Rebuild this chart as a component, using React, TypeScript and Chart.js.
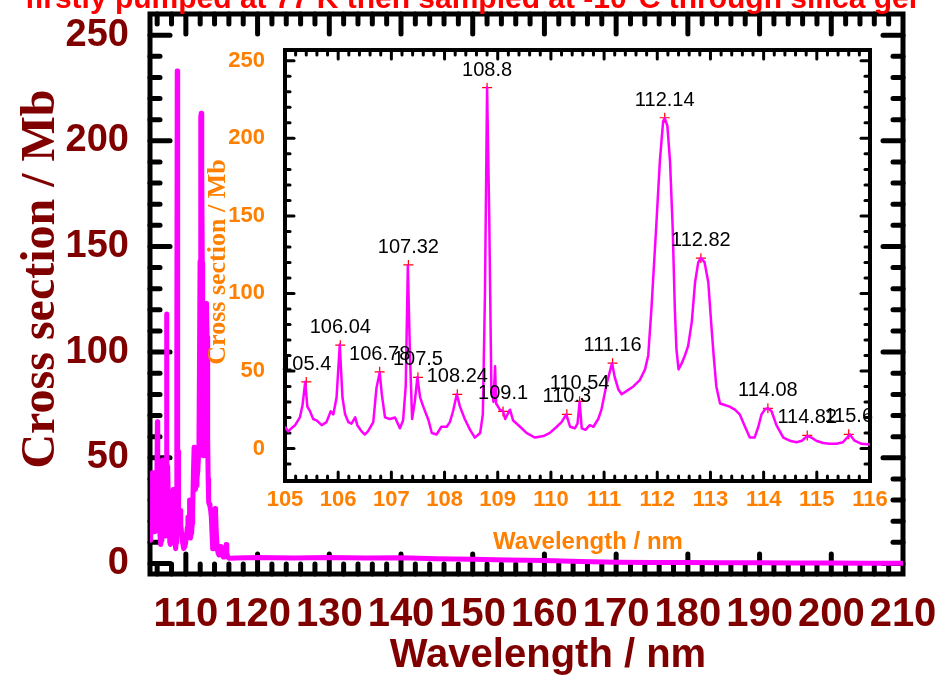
import React, { useEffect, useRef } from "react";
import { Chart, registerables } from "chart.js";

Chart.register(...registerables);

// ---------- text ----------
const TITLE = "firstly pumped at 77 K then sampled at -10°C through silica gel";
const X_TITLE = "Wavelength / nm";
const Y_TITLE = "Cross section / Mb";

// ---------- data (105-116 nm region, shared by main plot and inset) ----------
const spectrumWavelength = [
  105.0, 105.06, 105.12, 105.19, 105.28, 105.33, 105.38, 105.42, 105.47, 105.53,
  105.6, 105.69, 105.78, 105.86, 105.91, 105.97, 106.03, 106.08, 106.13, 106.19,
  106.25, 106.32, 106.36, 106.44, 106.5, 106.56, 106.66, 106.72, 106.78, 106.82,
  106.88, 106.97, 107.07, 107.16, 107.22, 107.27, 107.31, 107.35, 107.39, 107.44,
  107.49, 107.54, 107.6, 107.7, 107.76, 107.85, 107.94, 108.04, 108.1, 108.16,
  108.23, 108.29, 108.38, 108.48, 108.57, 108.67, 108.72, 108.76, 108.8, 108.84,
  108.88, 108.92, 108.95, 108.97, 109.04, 109.1, 109.14, 109.23, 109.29, 109.42,
  109.54, 109.7, 109.86, 109.98, 110.11, 110.2, 110.29, 110.36, 110.45, 110.5,
  110.54, 110.58, 110.65, 110.73, 110.8, 110.89, 110.95, 111.05, 111.15, 111.2,
  111.27, 111.33, 111.42, 111.55, 111.67, 111.77, 111.83, 111.89, 111.98, 112.05,
  112.11, 112.14, 112.19, 112.24, 112.29, 112.33, 112.36, 112.4, 112.46, 112.52,
  112.58, 112.65, 112.71, 112.77, 112.82, 112.89, 112.96, 113.02, 113.06, 113.11,
  113.18, 113.27, 113.36, 113.46, 113.55, 113.65, 113.74, 113.83, 113.9, 113.96,
  114.02, 114.08, 114.15, 114.24, 114.37, 114.49, 114.62, 114.72, 114.82, 114.9,
  114.99, 115.12, 115.24, 115.37, 115.49, 115.57, 115.62, 115.71, 115.84, 116.0,
];
const spectrumValue = [
  14, 11, 13, 15, 20, 28, 43, 27, 24, 19,
  18, 15, 17, 24, 22, 33, 67, 33, 22, 17,
  16, 20, 15, 11, 9, 11, 17, 39, 49, 35,
  20, 19, 20, 13, 18, 40, 118, 60, 19, 30,
  46, 33, 27, 18, 10, 9, 14, 14, 17, 24,
  35, 27, 19, 12, 7, 10, 22, 100, 233, 150,
  40, 30, 53, 29, 25, 24, 19, 25, 18, 14,
  10, 7, 8, 10, 14, 17, 22, 14, 13, 16,
  30, 13, 12, 15, 14, 19, 25, 42, 55, 46,
  38, 35, 37, 40, 44, 51, 60, 90, 143, 186,
  211, 213, 208, 185, 142, 90, 64, 51, 55, 60,
  66, 82, 107, 120, 123, 120, 107, 78, 60, 40,
  29, 28, 27, 25, 22, 14, 7, 7, 14, 22,
  25, 26, 24, 15, 7, 5, 4, 5, 8, 7,
  5, 3.5, 3, 3, 4, 7, 9, 5, 3, 2.5,
];

// long-wavelength tail (main plot only)
const tailWavelength = [117, 120, 125, 130, 135, 140, 145, 150, 155, 160, 165, 170, 175, 180, 185, 190, 195, 200, 205, 210];
const tailValue = [2.6, 2.8, 2.6, 2.8, 2.6, 2.7, 2.2, 2.0, 1.6, 1.4, 0.9, 0.6, 0.5, 0.4, 0.3, 0.3, 0.2, 0.2, 0.1, 0.1];

// labelled peaks (inset)
const peakWavelength = [105.4, 106.04, 106.78, 107.32, 107.5, 108.24, 108.8, 109.1, 110.3, 110.54, 111.16, 112.14, 112.82, 114.08, 114.82, 115.6];
const peakValue = [42.9, 66.6, 49.4, 118.4, 45.9, 34.9, 232.7, 23.9, 22, 30.4, 55, 213.3, 122.7, 25.9, 8.4, 9.1];
const peakLabel = ["105.4", "106.04", "106.78", "107.32", "107.5", "108.24", "108.8", "109.1", "110.3", "110.54", "111.16", "112.14", "112.82", "114.08", "114.82", "115.6"];

// tick labels
const mainXTicks = [110, 120, 130, 140, 150, 160, 170, 180, 190, 200, 210];
const mainYTicks = [0, 50, 100, 150, 200, 250];
const insetXTicks = [105, 106, 107, 108, 109, 110, 111, 112, 113, 114, 115, 116];
const insetYTicks = [0, 50, 100, 150, 200, 250];

// ---------- style ----------
const DARK_RED = "#800000";
const ORANGE = "#FF8000";
const MAGENTA = "#FF00FF";
const SANS = "'Liberation Sans', Arial, sans-serif";
const SERIF = "'Liberation Serif', 'Times New Roman', serif";

type FrameOpts = {
  id: string;
  xStep: number;
  yStep: number;
  xMajors: number[];
  yMajors: number[];
  frameWidth: number;
  tickWidth: number;
  minorLen: number;
  majorLen: number;
  fill?: boolean;
};

function framePlugin(o: FrameOpts) {
  return {
    id: o.id,
    beforeDraw(chart: any) {
      if (!o.fill) return;
      const { ctx, chartArea: a } = chart;
      ctx.save();
      ctx.fillStyle = "#fff";
      ctx.fillRect(a.left, a.top, a.right - a.left, a.bottom - a.top);
      ctx.restore();
    },
    beforeDatasetsDraw(chart: any) {
      const { ctx, chartArea: a, scales } = chart;
      const xs = scales.x;
      const ys = scales.y;
      ctx.save();
      ctx.strokeStyle = "#000";
      ctx.lineCap = "round";
      ctx.lineWidth = o.tickWidth;
      const seg = (x1: number, y1: number, x2: number, y2: number) => {
        ctx.beginPath();
        ctx.moveTo(x1, y1);
        ctx.lineTo(x2, y2);
        ctx.stroke();
      };
      const isMajor = (v: number, majors: number[], step: number) =>
        majors.some((m) => Math.abs(m - v) < step / 10);
      for (let k = Math.ceil(xs.min / o.xStep - 1e-9); k * o.xStep <= xs.max + 1e-9; k++) {
        const v = k * o.xStep;
        const p = xs.getPixelForValue(v);
        if (p < a.left + 3 || p > a.right - 3) continue;
        const len = isMajor(v, o.xMajors, o.xStep) ? o.majorLen : o.minorLen;
        seg(p, a.bottom, p, a.bottom - len);
        seg(p, a.top, p, a.top + len);
      }
      for (let k = Math.ceil(ys.min / o.yStep - 1e-9); k * o.yStep <= ys.max + 1e-9; k++) {
        const v = k * o.yStep;
        const p = ys.getPixelForValue(v);
        if (p < a.top + 3 || p > a.bottom - 3) continue;
        const len = isMajor(v, o.yMajors, o.yStep) ? o.majorLen : o.minorLen;
        seg(a.left, p, a.left + len, p);
        seg(a.right, p, a.right - len, p);
      }
      ctx.lineCap = "butt";
      ctx.lineJoin = "miter";
      ctx.lineWidth = o.frameWidth;
      ctx.strokeRect(a.left, a.top, a.right - a.left, a.bottom - a.top);
      ctx.restore();
    },
  };
}

const mainTextPlugin = {
  id: "mainText",
  afterDraw(chart: any) {
    const { ctx } = chart;
    ctx.save();
    ctx.fillStyle = "#FF0000";
    ctx.font = `bold 30px ${SANS}`;
    ctx.textAlign = "center";
    ctx.textBaseline = "alphabetic";
    ctx.fillText(TITLE, 471, 8);
    ctx.fillStyle = DARK_RED;
    ctx.font = `bold 40px ${SANS}`;
    ctx.fillText(X_TITLE, 548, 667);
    ctx.translate(54, 279);
    ctx.rotate(-Math.PI / 2);
    ctx.font = `bold 48px ${SERIF}`;
    ctx.fillText(Y_TITLE, 0, 0);
    ctx.restore();
  },
};

const insetTextPlugin = {
  id: "insetText",
  afterDatasetsDraw(chart: any) {
    const { ctx, scales } = chart;
    ctx.save();
    ctx.fillStyle = "#000";
    ctx.font = `20px ${SANS}`;
    ctx.textAlign = "center";
    ctx.textBaseline = "alphabetic";
    peakLabel.forEach((t, i) => {
      const px = scales.x.getPixelForValue(peakWavelength[i]);
      const py = scales.y.getPixelForValue(peakValue[i]);
      ctx.fillText(t, px, py - 12);
    });
    ctx.restore();
  },
  afterDraw(chart: any) {
    const { ctx } = chart;
    ctx.save();
    ctx.fillStyle = ORANGE;
    ctx.textAlign = "center";
    ctx.textBaseline = "alphabetic";
    ctx.font = `bold 24px ${SANS}`;
    ctx.fillText(X_TITLE, 398, 509);
    ctx.translate(35, 222);
    ctx.rotate(-Math.PI / 2);
    ctx.font = `bold 26px ${SERIF}`;
    ctx.fillText(Y_TITLE, 0, 0);
    ctx.restore();
  },
};

function points(xs: number[], ys: number[]) {
  return xs.map((x, i) => ({ x, y: ys[i] }));
}

function fixX(h: number) {
  return (s: any) => {
    s.height = h;
    s.paddingLeft = 0;
    s.paddingRight = 0;
    s.paddingTop = 0;
    s.paddingBottom = 0;
  };
}
function fixY(w: number) {
  return (s: any) => {
    s.width = w;
    s.paddingLeft = 0;
    s.paddingRight = 0;
    s.paddingTop = 0;
    s.paddingBottom = 0;
  };
}

export default function App() {
  const mainRef = useRef<HTMLCanvasElement>(null);
  const insetRef = useRef<HTMLCanvasElement>(null);

  useEffect(() => {
    const mainData = points(spectrumWavelength, spectrumValue).concat(points(tailWavelength, tailValue));
    const main = new Chart(mainRef.current as HTMLCanvasElement, {
      type: "line",
      data: {
        datasets: [
          {
            data: mainData,
            borderColor: MAGENTA,
            borderWidth: 5,
            pointRadius: 0,
            tension: 0,
            borderJoinStyle: "round",
          } as any,
        ],
      },
      options: {
        responsive: false,
        animation: false,
        devicePixelRatio: 1,
        layout: { autoPadding: false, padding: { left: 0, right: 39, top: 14, bottom: 0 } },
        plugins: { legend: { display: false }, tooltip: { enabled: false }, title: { display: false } },
        scales: {
          x: {
            type: "linear",
            min: 105,
            max: 210,
            grid: { display: false },
            border: { display: false },
            afterBuildTicks: (s: any) => {
              s.ticks = mainXTicks.map((v) => ({ value: v }));
            },
            afterFit: fixX(101),
            ticks: {
              autoSkip: false,
              maxRotation: 0,
              minRotation: 0,
              padding: 9,
              color: DARK_RED,
              font: { family: SANS, size: 40, weight: "bold" },
              callback: (v: any) => String(v),
            },
          },
          y: {
            type: "linear",
            min: -5,
            max: 260,
            grid: { display: false },
            border: { display: false },
            afterBuildTicks: (s: any) => {
              s.ticks = mainYTicks.map((v) => ({ value: v }));
            },
            afterFit: fixY(150),
            ticks: {
              autoSkip: false,
              padding: 13,
              color: DARK_RED,
              font: { family: SANS, size: 38, weight: "bold" },
              callback: (v: any) => String(v),
            },
          },
        },
      } as any,
      plugins: [
        framePlugin({
          id: "mainFrame",
          xStep: 2,
          yStep: 10,
          xMajors: mainXTicks,
          yMajors: mainYTicks,
          frameWidth: 5,
          tickWidth: 5,
          minorLen: 10,
          majorLen: 20,
        }),
        mainTextPlugin,
      ],
    });

    const inset = new Chart(insetRef.current as HTMLCanvasElement, {
      type: "line",
      data: {
        datasets: [
          {
            data: points(spectrumWavelength, spectrumValue),
            borderColor: MAGENTA,
            borderWidth: 2.5,
            pointRadius: 0,
            tension: 0,
            borderJoinStyle: "round",
          } as any,
          {
            data: points(peakWavelength, peakValue),
            showLine: false,
            pointStyle: "cross",
            pointRadius: 5,
            pointBorderColor: "#FF0000",
            pointBorderWidth: 1.2,
            pointBackgroundColor: "#FF0000",
          } as any,
        ],
      },
      options: {
        responsive: false,
        animation: false,
        devicePixelRatio: 1,
        layout: { autoPadding: false, padding: { left: 0, right: 40, top: 10, bottom: 0 } },
        plugins: { legend: { display: false }, tooltip: { enabled: false }, title: { display: false } },
        scales: {
          x: {
            type: "linear",
            min: 105,
            max: 116,
            grid: { display: false },
            border: { display: false },
            afterBuildTicks: (s: any) => {
              s.ticks = insetXTicks.map((v) => ({ value: v }));
            },
            afterFit: fixX(79),
            ticks: {
              autoSkip: false,
              maxRotation: 0,
              minRotation: 0,
              padding: -2,
              color: ORANGE,
              font: { family: SANS, size: 22, weight: "bold" },
              callback: (v: any) => String(v),
            },
          },
          y: {
            type: "linear",
            min: -21,
            max: 257,
            grid: { display: false },
            border: { display: false },
            afterBuildTicks: (s: any) => {
              s.ticks = insetYTicks.map((v) => ({ value: v }));
            },
            afterFit: fixY(95),
            ticks: {
              autoSkip: false,
              padding: 12,
              color: ORANGE,
              font: { family: SANS, size: 22, weight: "bold" },
              callback: (v: any) => String(v),
            },
          },
        },
      } as any,
      plugins: [
        framePlugin({
          id: "insetFrame",
          xStep: 0.2,
          yStep: 10,
          xMajors: insetXTicks,
          yMajors: insetYTicks,
          frameWidth: 4,
          tickWidth: 3,
          minorLen: 5,
          majorLen: 9,
          fill: true,
        }),
        insetTextPlugin,
      ],
    });

    return () => {
      main.destroy();
      inset.destroy();
    };
  }, []);

  return (
    <div style={{ position: "fixed", left: 0, top: 0, width: 942, height: 675, background: "#fff", overflow: "hidden" }}>
      <canvas ref={mainRef} width={942} height={675} style={{ position: "absolute", left: 0, top: 0, width: 942, height: 675 }} />
      <canvas ref={insetRef} width={720} height={520} style={{ position: "absolute", left: 190, top: 40, width: 720, height: 520 }} />
    </div>
  );
}
